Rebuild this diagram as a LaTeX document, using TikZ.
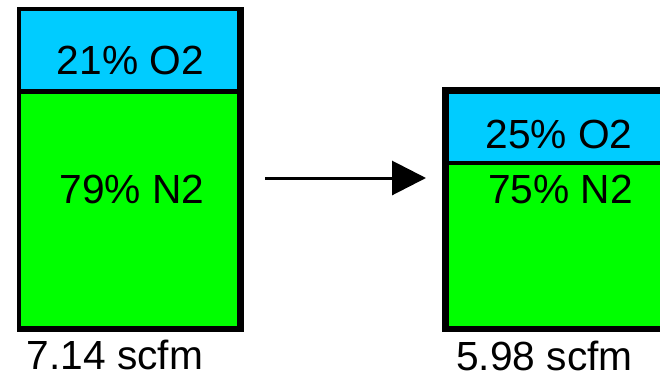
\documentclass[tikz,border=0pt]{standalone}
\usepackage{fontspec}
\setmainfont{Liberation Sans}
\usetikzlibrary{arrows.meta}
\definecolor{oxy}{HTML}{00CCFF}
\definecolor{nit}{HTML}{00FF00}
\tikzset{
  blk/.style={fill=black, inner sep=0, outer sep=0, anchor=north west},
  part/.style={inner sep=0, outer sep=0, anchor=north west},
  big/.style={font=\fontsize{40.7}{48}\selectfont, inner sep=0, anchor=base},
  foot/.style={big, text depth=0pt},
  flow/.style={line width=3pt, -{Triangle[length=34pt,width=34pt]}}
}
\begin{document}
\begin{tikzpicture}[x=1pt,y=-1pt]
\useasboundingbox (0,0) rectangle (660,375);
% left box
\node[blk, minimum width=227pt, minimum height=325pt] (lframe) at (17,7) {};
\node[part, fill=oxy, minimum width=216pt, minimum height=78pt] (lo2) at (21,11) {};
\node[part, fill=nit, minimum width=216pt, minimum height=232pt] (ln2) at (21,94) {};
\node[big] (lo2t) at (130.5,74) {21\% O2};
\node[big] (ln2t) at (132,203) {79\% N2};
\node[foot] (lflow) at (115,369) {7.14 scfm};
% right box
\node[blk, minimum width=230pt, minimum height=245pt] (rframe) at (442,87) {};
\node[part, fill=oxy, minimum width=220pt, minimum height=67pt] (ro2) at (449,94) {};
\node[part, fill=nit, minimum width=220pt, minimum height=161pt] (rn2) at (449,165) {};
\node[big] (ro2t) at (559,148) {25\% O2};
\node[big] (rn2t) at (560.5,203) {75\% N2};
\node[foot] (rflow) at (544.5,370) {5.98 scfm};
% arrow
\coordinate (a1) at (265,178);
\coordinate (a2) at (426,178);
\draw[flow] (a1) -- (a2);
\end{tikzpicture}
\end{document}
